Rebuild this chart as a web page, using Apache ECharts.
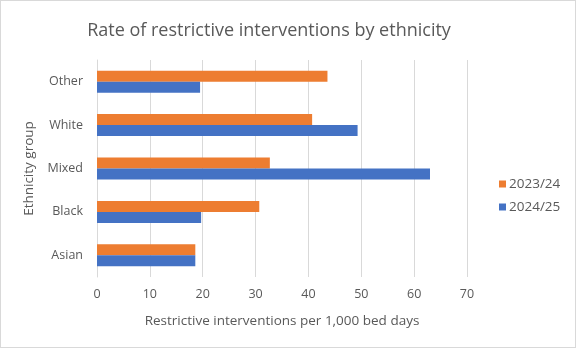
<!DOCTYPE html>
<html>
<head>
<meta charset="utf-8">
<script src="https://cdn.jsdelivr.net/npm/echarts@6/dist/echarts.min.js"></script>
<style>
html,body{margin:0;padding:0;background:#fff;}
#c{width:574px;height:346px;border:1px solid #d9d9d9;}
</style>
</head>
<body>
<div id="c"></div>
<script>
const categories = ['Asian', 'Black', 'Mixed', 'White', 'Other'];
const series2023 = [18.6, 30.7, 32.7, 40.7, 43.6];
const series2024 = [18.6, 19.7, 63.0, 49.3, 19.5];
const xTicks = { min: 0, max: 70, interval: 10 };
const titleText = 'Rate of restrictive interventions by ethnicity';
const xName = 'Restrictive interventions per 1,000 bed days';
const yName = 'Ethnicity group';

const font = '"Open Sans", "Noto Sans", sans-serif';
const chart = echarts.init(document.getElementById('c'), null, { renderer: 'canvas' });
chart.setOption({
  animation: false,
  textStyle: { fontFamily: font },
  title: {
    text: titleText,
    left: 263, top: 16, textAlign: 'center',
    textStyle: { fontFamily: font, fontSize: 18, fontWeight: 'normal', color: '#595959' }
  },
  legend: {
    data: ['2023/24', '2024/25'],
    orient: 'vertical',
    left: 493, top: 171,
    itemWidth: 7, itemHeight: 7, itemGap: 9,
    icon: 'rect',
    textStyle: { fontFamily: font, fontSize: 13.5, color: '#595959', padding: [0, 0, 0, -2] }
  },
  grid: { left: 96, right: 108, top: 59, bottom: 70, containLabel: false },
  xAxis: {
    type: 'value',
    min: xTicks.min, max: xTicks.max, interval: xTicks.interval,
    name: xName, nameLocation: 'middle', nameGap: 37,
    nameTextStyle: { fontFamily: font, fontSize: 13.5, color: '#595959' },
    axisLine: { show: false },
    axisTick: { show: false },
    axisLabel: { fontFamily: font, fontSize: 12.5, color: '#595959', margin: 11 },
    splitLine: { show: true, lineStyle: { color: '#d9d9d9', width: 1 } }
  },
  yAxis: {
    type: 'category',
    data: categories,
    name: yName, nameLocation: 'middle', nameGap: 57,
    nameTextStyle: { fontFamily: font, fontSize: 13.5, color: '#595959' },
    axisLine: { show: true, lineStyle: { color: '#d9d9d9' } },
    axisTick: { show: false },
    axisLabel: { fontFamily: font, fontSize: 12.5, color: '#595959', margin: 14 }
  },
  series: [
    {
      name: '2023/24', type: 'bar', data: series2023,
      barWidth: 11, barGap: '0%',
      itemStyle: { color: '#ed7d31' }
    },
    {
      name: '2024/25', type: 'bar', data: series2024,
      barWidth: 11, barGap: '0%',
      itemStyle: { color: '#4472c4' }
    }
  ]
});
</script>
</body>
</html>
